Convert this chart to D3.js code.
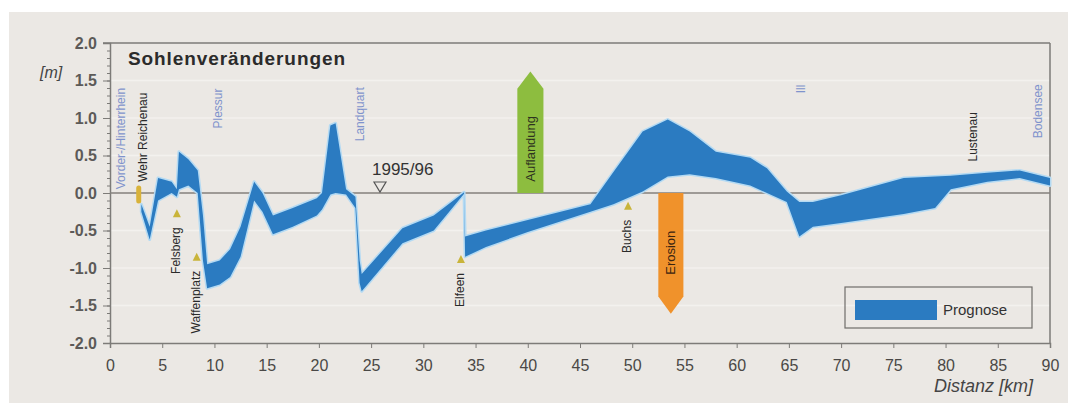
<!DOCTYPE html>
<meta charset="UTF-8">
<style>
body { margin: 0; background: #fff; }
svg { display: block; font-family: "Liberation Sans", Arial, sans-serif; }
.axis path, .axis line { stroke: #7d7b78; }
.yaxis text { font-size: 16px; font-weight: bold; fill: #5c5a58; }
.xaxis text { font-size: 16px; fill: #4a4846; }
</style>
<body>
<script src="https://d3js.org/d3.v7.min.js"></script>
<script>

// distance along the river [km] with upper / lower edge of the forecast band [m]
var km    = [3.0, 3.8, 4.6, 5.9, 6.4, 6.6, 7.5, 8.4, 8.9, 9.3, 10.5, 11.5, 12.5, 13.8, 14.6, 15.6, 17.5, 19.8, 20.3, 21.1, 21.6, 22.6, 23.5, 23.9, 24.1, 28.0, 31.0, 33.9, 34.0, 36.0, 40.0, 46.0, 48.2, 51.0, 53.4, 55.5, 58.0, 61.3, 62.9, 64.8, 66.0, 67.3, 70.0, 76.0, 79.0, 80.5, 84.0, 87.1, 90.0];
var upper = [-0.15, -0.45, 0.2, 0.15, 0.05, 0.55, 0.45, 0.3, -0.3, -0.95, -0.9, -0.75, -0.45, 0.15, 0.0, -0.3, -0.2, -0.07, 0.0, 0.9, 0.93, 0.05, -0.05, -0.9, -1.08, -0.47, -0.3, 0.01, -0.58, -0.5, -0.36, -0.15, 0.28, 0.82, 0.98, 0.82, 0.55, 0.47, 0.33, 0.02, -0.12, -0.12, -0.03, 0.2, 0.22, 0.23, 0.27, 0.3, 0.2];
var lower = [-0.25, -0.62, -0.1, 0.0, -0.05, 0.05, 0.1, 0.0, -0.9, -1.27, -1.22, -1.12, -0.85, -0.1, -0.25, -0.55, -0.45, -0.3, -0.22, -0.02, 0.0, -0.02, -0.2, -1.2, -1.31, -0.67, -0.5, -0.01, -0.85, -0.72, -0.52, -0.25, -0.15, 0.02, 0.22, 0.25, 0.2, 0.1, 0.0, -0.12, -0.58, -0.45, -0.4, -0.28, -0.2, 0.05, 0.15, 0.2, 0.1];

var yTicks = [-2.0, -1.5, -1.0, -0.5, 0.0, 0.5, 1.0, 1.5, 2.0];
var xTicks = [0, 5, 10, 15, 20, 25, 30, 35, 40, 45, 50, 55, 60, 65, 70, 75, 80, 85, 90];

// tributaries and places written upright above the band (km, m at text start)
var placeNames = ["Vorder-/Hinterrhein", "Wehr Reichenau", "Plessur", "Landquart", "Ill", "Lustenau", "Bodensee"];
var placeKm    = [1.0, 3.1, 10.3, 23.9, 66.1, 82.6, 88.8];
var placeM     = [0.05, 0.15, 0.86, 0.69, 1.33, 0.42, 0.73];
var placeBlue  = [true, false, true, true, true, false, true];

// gauges with a marker below the band
var gaugeNames = ["Felsberg", "Waffenplatz", "Elfeen", "Buchs"];
var gaugeKm    = [6.4, 8.3, 33.6, 49.6];
var gaugeM     = [-0.27, -0.85, -0.88, -0.17];

var width = 1068, height = 403;
var svg = d3.select("body").append("svg")
    .attr("width", width)
    .attr("height", height);

svg.append("rect").attr("x", 9).attr("y", 12)
    .attr("width", width - 9).attr("height", height - 12)
    .attr("fill", "#ebe8e4");

var x = d3.scaleLinear().domain([0, 90]).range([110, 1050]);
var y = d3.scaleLinear().domain([-2, 2]).range([343, 43]);

// faint grid
svg.append("g").selectAll("line")
    .data(yTicks.filter(function(d) { return d !== 0 && Math.abs(d) !== 2; }))
  .enter().append("line")
    .attr("x1", x(0)).attr("x2", x(90))
    .attr("y1", function(d) { return y(d); })
    .attr("y2", function(d) { return y(d); })
    .attr("stroke", "#f3f1ee").attr("stroke-width", 1.5);

// frame
svg.append("line").attr("x1", 103).attr("x2", x(90)).attr("y1", y(2)).attr("y2", y(2))
    .attr("stroke", "#7d7b78").attr("stroke-width", 1.5);
svg.append("line").attr("x1", x(90)).attr("x2", x(90)).attr("y1", y(2)).attr("y2", y(-2))
    .attr("stroke", "#7d7b78").attr("stroke-width", 1.5);

// axes
var minor = d3.range(-20, 21).map(function(d) { return d / 10; });
svg.append("g").attr("class", "axis")
    .attr("transform", "translate(" + x(0) + ",0)")
    .call(d3.axisLeft(y).tickValues(minor).tickSize(3).tickFormat(""))
    .select(".domain").remove();
svg.append("g").attr("class", "axis yaxis")
    .attr("transform", "translate(" + x(0) + ",0)")
    .call(d3.axisLeft(y).tickValues(yTicks).tickSize(7).tickPadding(6)
      .tickFormat(function(d) { return d.toFixed(1); }))
    .select(".domain").attr("stroke-width", 1.5);

svg.append("g").attr("class", "axis xaxis")
    .attr("transform", "translate(0," + y(-2) + ")")
    .call(d3.axisBottom(x).tickValues(xTicks).tickSize(5).tickPadding(12))
    .select(".domain").attr("stroke-width", 1.5);
svg.selectAll(".axis text").attr("font-family", null);

// zero line
svg.append("line").attr("x1", x(0)).attr("x2", x(90)).attr("y1", y(0)).attr("y2", y(0))
    .attr("stroke", "#85817c").attr("stroke-width", 1.5);

// forecast band
var band = d3.range(km.length).map(function(i) { return {km: km[i], hi: upper[i], lo: lower[i]}; });
var area = d3.area()
    .x(function(d) { return x(d.km); })
    .y0(function(d) { return y(d.lo); })
    .y1(function(d) { return y(d.hi); });

svg.append("path").datum(band).attr("d", area)
    .attr("fill", "#b4daf3").attr("stroke", "#b4daf3").attr("stroke-width", 3)
    .attr("stroke-linejoin", "round");
svg.append("path").datum(band).attr("d", area)
    .attr("fill", "#2b7bc1");

// arrows
function arrowPath(x0, x1, base, shoulder, tip) {
  var xm = (x0 + x1) / 2;
  return "M" + x(x0) + "," + y(base) + "L" + x(x0) + "," + y(shoulder) +
         "L" + x(xm) + "," + y(tip) + "L" + x(x1) + "," + y(shoulder) +
         "L" + x(x1) + "," + y(base) + "Z";
}
svg.append("path").attr("d", arrowPath(39.0, 41.5, 0, 1.39, 1.62)).attr("fill", "#8dbd3f");
svg.append("path").attr("d", arrowPath(52.5, 54.9, 0, -1.38, -1.61)).attr("fill", "#f0922b");

svg.append("text")
    .attr("transform", "translate(" + x(40.25) + "," + y(0.15) + ") rotate(-90)")
    .attr("dy", "0.35em").attr("font-size", 13).attr("fill", "#2e3320")
    .text("Auflandung");
svg.append("text")
    .attr("transform", "translate(" + x(53.7) + "," + y(-1.09) + ") rotate(-90)")
    .attr("dy", "0.35em").attr("font-size", 13).attr("fill", "#3a2410")
    .text("Erosion");

// place names
placeNames.forEach(function(n, i) {
  svg.append("text")
      .attr("transform", "translate(" + x(placeKm[i]) + "," + y(placeM[i]) + ") rotate(-90)")
      .attr("dy", "0.35em")
      .attr("font-size", 12)
      .attr("fill", placeBlue[i] ? "#7f93cc" : "#2a2a2a")
      .text(n);
});

// Wehr Reichenau marker
svg.append("rect")
    .attr("x", x(2.75) - 2.5).attr("y", y(0.1))
    .attr("width", 5).attr("height", y(-0.14) - y(0.1))
    .attr("rx", 2.5).attr("fill", "#d8b23a");

// gauges
gaugeNames.forEach(function(n, i) {
  var gx = x(gaugeKm[i]), gy = y(gaugeM[i]);
  svg.append("path")
      .attr("d", "M" + (gx - 4) + "," + (gy + 4) + "L" + gx + "," + (gy - 4) + "L" + (gx + 4) + "," + (gy + 4) + "Z")
      .attr("fill", "#c9b43a");
  svg.append("text")
      .attr("transform", "translate(" + (gx - 1) + "," + (gy + 14) + ") rotate(-90)")
      .attr("dy", "0.35em")
      .attr("text-anchor", "end")
      .attr("font-size", 12)
      .attr("fill", "#2a2a2a")
      .text(n);
});

// 1995/96 reference
var rx = x(25.85), ry = y(0);
svg.append("path")
    .attr("d", "M" + (rx - 6) + "," + (ry - 11) + "L" + (rx + 6) + "," + (ry - 11) + "L" + rx + "," + (ry - 1) + "Z")
    .attr("fill", "none").attr("stroke", "#555").attr("stroke-width", 1.2);
svg.append("text").attr("x", 372).attr("y", 175)
    .attr("font-size", 17).attr("fill", "#333")
    .text("1995/96");

// titles
svg.append("text").attr("x", 128).attr("y", 65)
    .attr("font-size", 19).attr("font-weight", "bold").attr("fill", "#2b2b2b")
    .attr("textLength", 217).attr("lengthAdjust", "spacing")
    .text("Sohlenveränderungen");
svg.append("text").attr("x", 40).attr("y", 78)
    .attr("font-size", 16).attr("font-style", "italic").attr("fill", "#444")
    .text("[m]");
svg.append("text").attr("x", 1033).attr("y", 392)
    .attr("text-anchor", "end")
    .attr("font-size", 18).attr("font-style", "italic").attr("fill", "#444")
    .text("Distanz [km]");

// legend
svg.append("rect").attr("x", 845).attr("y", 287).attr("width", 187).attr("height", 41)
    .attr("fill", "none").attr("stroke", "#6f6d6a").attr("stroke-width", 1.2);
svg.append("rect").attr("x", 855).attr("y", 300).attr("width", 82).attr("height", 20)
    .attr("fill", "#2b7bc1");
svg.append("text").attr("x", 943).attr("y", 315)
    .attr("font-size", 15).attr("fill", "#333")
    .text("Prognose");

</script>
</body>
